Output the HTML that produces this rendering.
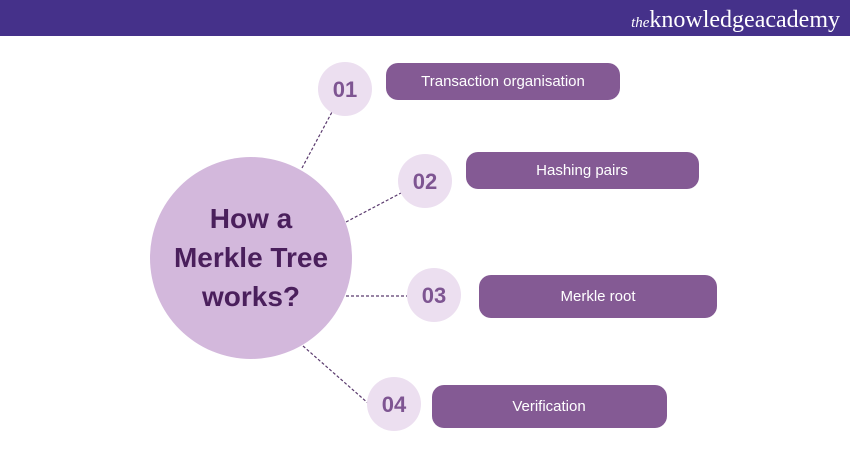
<!DOCTYPE html>
<html><head><meta charset="utf-8"><style>
body{margin:0;width:850px;height:450px;background:#fff;overflow:hidden}
</style></head><body>
<svg width="850" height="450" xmlns="http://www.w3.org/2000/svg" style="display:block">
<rect x="0" y="0" width="850" height="36" fill="#45318a"/>
<text x="840" y="27" text-anchor="end" font-family="Liberation Serif, serif" font-size="24" fill="#fff"><tspan font-style="italic" font-size="15">the</tspan>knowledgeacademy</text>
<g stroke="#5a3a6e" stroke-width="1.2" stroke-dasharray="3,2" fill="none">
<line x1="302" y1="168" x2="332" y2="112"/>
<line x1="346" y1="222" x2="401" y2="193"/>
<line x1="346" y1="296" x2="407" y2="296"/>
<line x1="303" y1="346" x2="369" y2="404"/>
</g>
<circle cx="251" cy="258" r="101" fill="#d3b8dc"/>
<g font-family="Liberation Sans, sans-serif" font-weight="bold" font-size="28" fill="#4a1f5c" text-anchor="middle">
<text x="251" y="228">How a</text>
<text x="251" y="267">Merkle Tree</text>
<text x="251" y="306">works?</text>
</g>
<g fill="#ecdff0">
<circle cx="345" cy="89" r="27"/>
<circle cx="425" cy="181" r="27"/>
<circle cx="434" cy="295" r="27"/>
<circle cx="394" cy="404" r="27"/>
</g>
<g font-family="Liberation Sans, sans-serif" font-weight="bold" font-size="22" fill="#7e5592" text-anchor="middle">
<text x="345" y="97">01</text>
<text x="425" y="189">02</text>
<text x="434" y="303">03</text>
<text x="394" y="412">04</text>
</g>
<g fill="#845a94">
<rect x="386" y="63" width="234" height="37" rx="12"/>
<rect x="466" y="152" width="233" height="37" rx="12"/>
<rect x="479" y="275" width="238" height="43" rx="12"/>
<rect x="432" y="385" width="235" height="43" rx="12"/>
</g>
<g font-family="Liberation Sans, sans-serif" font-size="15" fill="#fff" text-anchor="middle">
<text x="503" y="86">Transaction organisation</text>
<text x="582" y="175">Hashing pairs</text>
<text x="598" y="301">Merkle root</text>
<text x="549" y="411">Verification</text>
</g>
</svg>
</body></html>
